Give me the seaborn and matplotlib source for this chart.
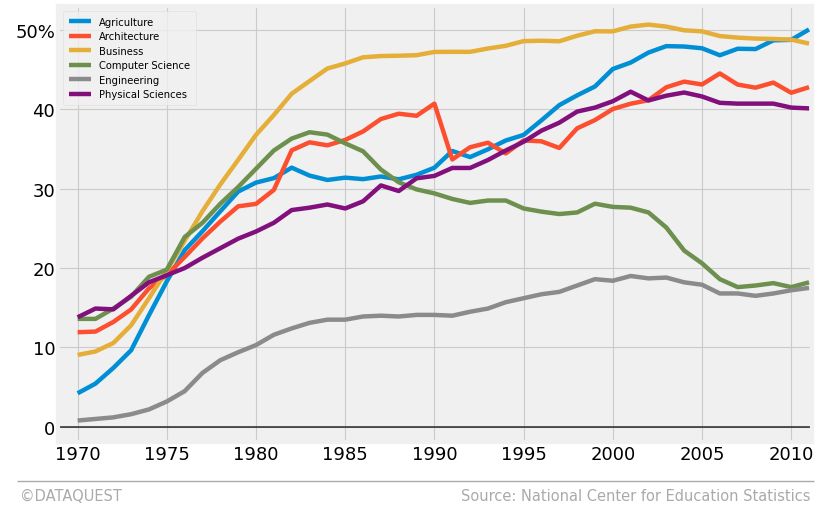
import matplotlib
matplotlib.use('Agg')
import matplotlib.pyplot as plt
from matplotlib.lines import Line2D
import pandas as pd
import seaborn as sns

years = list(range(1970, 2012))

agriculture = [4.23, 5.45, 7.42, 9.65, 14.07, 18.33, 22.25, 24.64, 27.15, 29.63,
               30.76, 31.32, 32.64, 31.64, 31.09, 31.38, 31.19, 31.53, 31.17, 31.74,
               32.63, 34.74, 33.97, 34.95, 36.06, 36.76, 38.60, 40.51, 41.74, 42.86,
               45.06, 45.87, 47.13, 47.94, 47.89, 47.67, 46.79, 47.61, 47.57, 48.67,
               48.73, 50.04]
architecture = [11.92, 12.00, 13.21, 14.79, 17.44, 19.13, 21.39, 23.74, 25.85, 27.77,
                28.08, 29.84, 34.82, 35.83, 35.45, 36.13, 37.20, 38.76, 39.43, 39.17,
                40.70, 33.67, 35.21, 35.78, 34.43, 36.07, 35.95, 35.12, 37.59, 38.63,
                40.02, 40.69, 41.13, 42.76, 43.47, 43.11, 44.50, 43.10, 42.71, 43.35,
                42.07, 42.77]
business = [9.06, 9.50, 10.56, 12.80, 16.20, 19.69, 23.43, 27.16, 30.53, 33.62,
            36.77, 39.27, 41.95, 43.54, 45.12, 45.76, 46.53, 46.69, 46.73, 46.80,
            47.21, 47.22, 47.22, 47.64, 47.98, 48.57, 48.62, 48.55, 49.25, 49.81,
            49.80, 50.40, 50.65, 50.40, 49.93, 49.80, 49.21, 49.01, 48.89, 48.84,
            48.76, 48.26]
computer_science = [13.6, 13.6, 14.9, 16.4, 18.9, 19.8, 23.9, 25.7, 28.1, 30.2,
                    32.5, 34.8, 36.3, 37.1, 36.8, 35.7, 34.7, 32.4, 30.8, 29.9,
                    29.4, 28.7, 28.2, 28.5, 28.5, 27.5, 27.1, 26.8, 27.0, 28.1,
                    27.7, 27.6, 27.0, 25.1, 22.2, 20.6, 18.6, 17.6, 17.8, 18.1,
                    17.6, 18.2]
engineering = [0.8, 1.0, 1.2, 1.6, 2.2, 3.2, 4.5, 6.8, 8.4, 9.4,
               10.3, 11.6, 12.4, 13.1, 13.5, 13.5, 13.9, 14.0, 13.9, 14.1,
               14.1, 14.0, 14.5, 14.9, 15.7, 16.2, 16.7, 17.0, 17.8, 18.6,
               18.4, 19.0, 18.7, 18.8, 18.2, 17.9, 16.8, 16.8, 16.5, 16.8,
               17.2, 17.5]
physical_sciences = [13.8, 14.9, 14.8, 16.5, 18.2, 19.1, 20.0, 21.3, 22.5, 23.7,
                     24.6, 25.7, 27.3, 27.6, 28.0, 27.5, 28.4, 30.4, 29.7, 31.3,
                     31.6, 32.6, 32.6, 33.6, 34.8, 35.9, 37.3, 38.3, 39.7, 40.2,
                     41.0, 42.2, 41.1, 41.7, 42.1, 41.6, 40.8, 40.7, 40.7, 40.7,
                     40.2, 40.1]

majors = ['Agriculture', 'Architecture', 'Business', 'Computer Science',
          'Engineering', 'Physical Sciences']
series = [agriculture, architecture, business, computer_science,
          engineering, physical_sciences]
colors = ['#008fd5', '#fc4f30', '#e5ae38', '#6d904f', '#8b8b8b', '#810f7c']

y_ticks = [0, 10, 20, 30, 40, 50]
y_tick_labels = ['0', '10', '20', '30', '40', '50%']

plt.style.use('fivethirtyeight')
fig = plt.figure(figsize=(8.31, 5.10), dpi=100, facecolor='white')
ax = fig.add_axes([0.0698, 0.1314, 0.907, 0.855])
ax.set_facecolor('#f0f0f0')

for major, values, color in zip(majors, series, colors):
    df = pd.DataFrame({'year': years, 'pct': values})
    sns.lineplot(data=df, x='year', y='pct', color=color, label=major,
                 linewidth=3.2, ax=ax)

ax.axhline(y=0, color='black', linewidth=1.3, alpha=0.7)
ax.set_xlim(1968.9, 2011.15)
ax.set_ylim(-1.9, 53.0)
ax.set_yticks(y_ticks)
ax.set_yticklabels(y_tick_labels)
ax.set_xticks(range(1970, 2011, 5))
ax.tick_params(axis='both', labelsize=13, length=0, pad=2)
ax.set_xlabel('')
ax.set_ylabel('')
ax.grid(True, color='#cbcbcb', linewidth=0.8)

leg = ax.legend(loc='upper left', fontsize=7.2, frameon=True,
                handlelength=2.2, borderpad=0.6, labelspacing=0.45)
leg.get_frame().set_facecolor('#f0f0f0')
leg.get_frame().set_edgecolor('#dddddd')

fig.add_artist(Line2D([0.020, 0.980], [0.054, 0.054], color='#aaaaaa',
                      linewidth=1.0, transform=fig.transFigure))
fig.text(0.024, 0.027, '\u00a9DATAQUEST', fontsize=10.5, color='#aaaaaa',
         ha='left', va='center')
fig.text(0.975, 0.027, 'Source: National Center for Education Statistics',
         fontsize=10.5, color='#aaaaaa', ha='right', va='center')

fig.savefig('out.png', dpi=100, facecolor='white')
